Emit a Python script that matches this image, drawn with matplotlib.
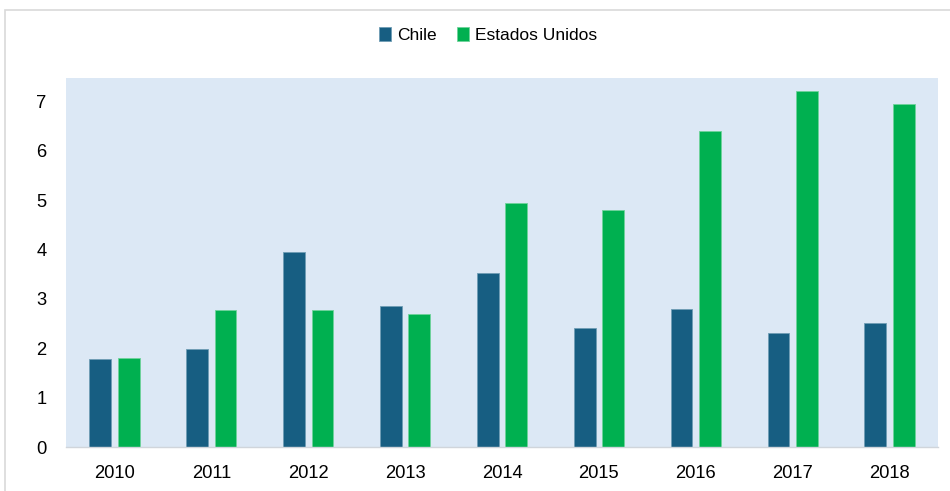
import matplotlib
matplotlib.use("Agg")
import matplotlib.pyplot as plt
import numpy as np
from matplotlib.patches import Rectangle

years = ["2010", "2011", "2012", "2013", "2014", "2015", "2016", "2017", "2018"]
chile = [1.78, 1.98, 3.95, 2.85, 3.52, 2.41, 2.79, 2.31, 2.51]
eeuu = [1.80, 2.77, 2.77, 2.69, 4.94, 4.80, 6.40, 7.21, 6.94]
series_names = ["Chile", "Estados Unidos"]
colors = ["#175E82", "#00B050"]

plt.rcParams['font.family'] = ['Liberation Sans', 'DejaVu Sans']

fig = plt.figure(figsize=(9.5, 4.91), dpi=100)
W, H = 950, 491
ax = fig.add_axes([66 / W, 1 - 447 / H, (938 - 66) / W, (447 - 78) / H])
ax.set_facecolor("#DCE8F5")

x = np.arange(len(years))
bw = 0.225
off = 0.147
ax.bar(x - off, chile, bw, color=colors[0], edgecolor="#6F9DB5", linewidth=0.6, label=series_names[0], zorder=2)
ax.bar(x + off, eeuu, bw, color=colors[1], edgecolor="#6FD39A", linewidth=0.6, label=series_names[1], zorder=2)

ax.set_xlim(-0.5, len(years) - 0.5)
ax.set_ylim(0, 7.47)
ax.set_yticks(range(0, 8))
ax.set_xticks(x)
ax.set_xticklabels(years)
ax.tick_params(axis='both', length=0, labelsize=13.2, colors="#000000")
ax.tick_params(axis='x', pad=13)
ax.tick_params(axis='y', pad=14)
for s in ["top", "right", "left"]:
    ax.spines[s].set_visible(False)
ax.spines["bottom"].set_color("#D0D5DB")
ax.spines["bottom"].set_linewidth(1.0)

fig.legend(loc="center", bbox_to_anchor=(488 / W, 1 - 35 / H), ncol=2, frameon=False,
           handlelength=0.7, handleheight=0.9, handletextpad=0.3, columnspacing=1.2,
           prop={'family': ['Liberation Sans Narrow', 'Liberation Sans'], 'size': 12.5})

fig.patches.append(Rectangle((5 / W, -0.1), 1.2, 1 - 10 / H + 0.1, transform=fig.transFigure,
                             fill=False, edgecolor="#D9D9D9", linewidth=1.2))

fig.savefig("out.png", dpi=100)
